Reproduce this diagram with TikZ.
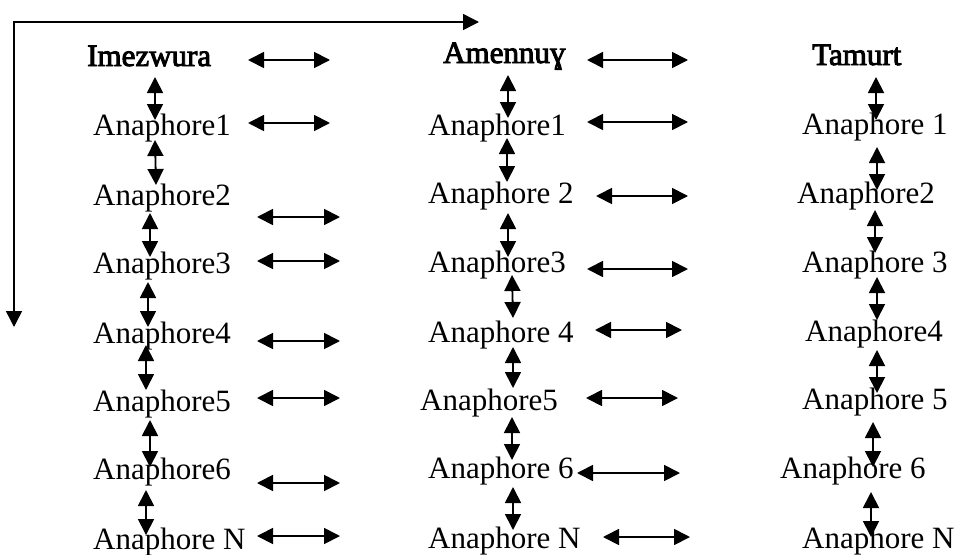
\documentclass[tikz,border=0pt]{standalone}
\usepackage{fontspec}
\setmainfont{Liberation Serif}
\newfontfamily\hdfont[FakeBold=3]{Liberation Serif}
\usetikzlibrary{arrows.meta}
\tikzset{
  txt/.style={anchor=base west, inner sep=0pt, font=\fontsize{31}{37}\selectfont},
  hdr/.style={anchor=base west, inner sep=0pt, font=\hdfont\fontsize{31}{37}\selectfont},
  tip/.tip={Triangle[length=16pt,width=16pt]},
  dbl/.style={tip-tip, line width=1.8pt},
}
\begin{document}
\begin{tikzpicture}[x=1pt,y=-1pt]
\useasboundingbox (0,0) rectangle (960,554);
% headers
\node[hdr] (h1) at (87,66) {Imezwura};
\node[hdr] (h2) at (443,63) {Amennuɣ};
\node[hdr] (h3) at (812,65) {Tamurt};
% column 1
\node[txt] (a11) at (93,135) {Anaphore1};
\node[txt] (a12) at (93,205) {Anaphore2};
\node[txt] (a13) at (93,273) {Anaphore3};
\node[txt] (a14) at (93,343) {Anaphore4};
\node[txt] (a15) at (93,411) {Anaphore5};
\node[txt] (a16) at (93,479) {Anaphore6};
\node[txt] (a17) at (93,549) {Anaphore N};
% column 2
\node[txt] (a21) at (428,135) {Anaphore1};
\node[txt] (a22) at (428,203) {Anaphore 2};
\node[txt] (a23) at (428,272) {Anaphore3};
\node[txt] (a24) at (428,342) {Anaphore 4};
\node[txt] (a25) at (420,410) {Anaphore5};
\node[txt] (a26) at (428,478) {Anaphore 6};
\node[txt] (a27) at (428,548) {Anaphore N};
% column 3
\node[txt] (a31) at (802,134) {Anaphore 1};
\node[txt] (a32) at (797,203) {Anaphore2};
\node[txt] (a33) at (802,272) {Anaphore 3};
\node[txt] (a34) at (805,341) {Anaphore4};
\node[txt] (a35) at (802,409) {Anaphore 5};
\node[txt] (a36) at (780,478) {Anaphore 6};
\node[txt] (a37) at (802,548) {Anaphore N};
% vertical arrows
\foreach \c/\i/\xa/\ya/\xb/\yb in {
  1/0/155/77/155/120, 1/1/155/140/156/185, 1/2/150/213/150/257, 1/3/148/282/148/327,
  1/4/146/345/146/390, 1/5/150/420/150/467, 1/6/146/490/146/535,
  2/0/508/75/508/118, 2/1/507/138/507/182, 2/2/508/213/508/257, 2/3/512/275/513/318,
  2/4/513/347/513/388, 2/5/512/417/512/460, 2/6/513/487/513/530,
  3/0/876/77/876/120, 3/1/877/147/877/190, 3/2/875/210/875/253, 3/3/877/277/877/320,
  3/4/877/350/877/393, 3/5/873/422/873/467, 3/6/871/492/871/537}{
  \coordinate (v\c-\i-t) at (\xa,\ya);
  \coordinate (v\c-\i-b) at (\xb,\yb);
  \draw[dbl] (v\c-\i-t) -- (v\c-\i-b);
}
% horizontal arrows
\foreach \c/\i/\xa/\xb/\y in {
  1/0/248/330/60, 1/1/248/330/123, 1/2/257/340/217, 1/3/257/340/261,
  1/4/257/340/341, 1/5/257/340/398, 1/6/257/340/483, 1/7/257/340/536,
  2/0/587/688/60, 2/1/587/688/122, 2/2/596/688/196, 2/3/587/688/269,
  2/4/595/682/330, 2/5/586/678/398, 2/6/577/680/473, 2/7/603/690/537}{
  \coordinate (h\c-\i-l) at (\xa,\y);
  \coordinate (h\c-\i-r) at (\xb,\y);
  \draw[dbl] (h\c-\i-l) -- (h\c-\i-r);
}
% outer L connector
\coordinate (lb) at (14,327);
\coordinate (tr) at (479,22);
\draw[line width=1.5pt, tip-tip] (lb) |- (tr);
\end{tikzpicture}
\end{document}
